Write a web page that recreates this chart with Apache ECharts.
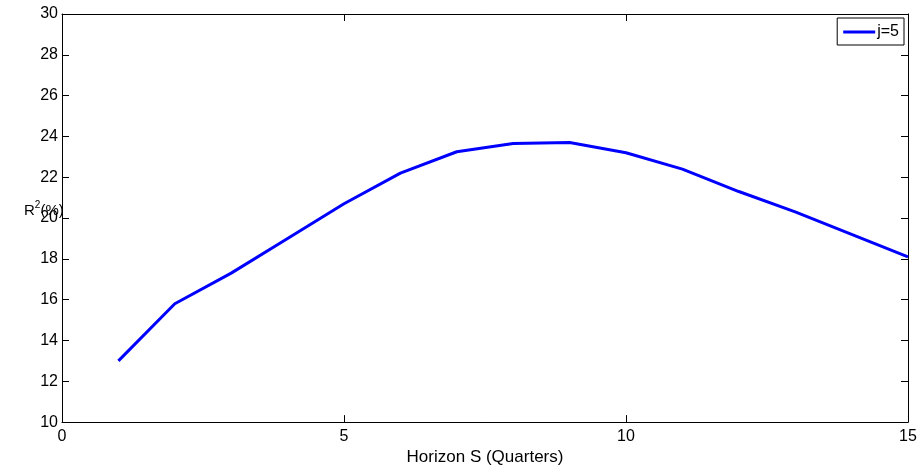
<!DOCTYPE html>
<html>
<head>
<meta charset="utf-8">
<script src="https://cdn.jsdelivr.net/npm/echarts@6/dist/echarts.min.js"></script>
<style>
  html, body { margin: 0; padding: 0; background: #fff; }
  #chart { width: 922px; height: 471px; }
</style>
</head>
<body>
<div id="chart"></div>
<script>
// Forecast horizon in quarters
const horizon = [1, 2, 3, 4, 5, 6, 7, 8, 9, 10, 11, 12, 13, 14, 15];
// R-squared (%) for j=5
const r2 = [13.0, 15.8, 17.3, 19.0, 20.7, 22.2, 23.25, 23.65, 23.7, 23.2, 22.4, 21.3, 20.3, 19.2, 18.1];
const seriesName = 'j=5';

const font = 'Liberation Sans, Arial, sans-serif';
const chart = echarts.init(document.getElementById('chart'));

const boxLine = { show: true, onZero: false, lineStyle: { color: '#000', width: 1 } };
const inTick = { show: true, inside: true, length: 7, lineStyle: { color: '#000', width: 1 } };

chart.setOption({
  animation: false,
  backgroundColor: '#fff',
  grid: { left: 62, right: 14, top: 14, bottom: 47, show: false },
  legend: {
    show: true,
    data: [seriesName],
    right: 18,
    top: 18,
    orient: 'vertical',
    itemWidth: 32,
    itemHeight: 3,
    itemGap: 0,
    padding: [6, 5, 5, 6],
    borderColor: '#000',
    borderWidth: 1,
    borderRadius: 0,
    backgroundColor: '#fff',
    textStyle: { fontFamily: font, fontSize: 16, color: '#000', padding: [0, 0, 0, -3] },
    icon: 'rect'
  },
  xAxis: [
    {
      type: 'value', min: 0, max: 15, interval: 5, position: 'bottom',
      axisLine: boxLine, axisTick: inTick, splitLine: { show: false },
      axisLabel: { fontFamily: font, fontSize: 16, color: '#000', margin: 6 },
      name: 'Horizon S (Quarters)', nameLocation: 'middle', nameGap: 25,
      nameTextStyle: { fontFamily: font, fontSize: 17, color: '#000' }
    },
    {
      type: 'value', min: 0, max: 15, interval: 5, position: 'top',
      axisLine: boxLine, axisTick: inTick, splitLine: { show: false },
      axisLabel: { show: false }
    }
  ],
  yAxis: [
    {
      type: 'value', min: 10, max: 30, interval: 2, position: 'left',
      axisLine: boxLine, axisTick: inTick, splitLine: { show: false },
      axisLabel: { fontFamily: font, fontSize: 16, color: '#000', margin: 4 }
    },
    {
      type: 'value', min: 10, max: 30, interval: 2, position: 'right',
      axisLine: boxLine, axisTick: inTick, splitLine: { show: false },
      axisLabel: { show: false }
    }
  ],
  graphic: [
    {
      type: 'text',
      left: 24,
      top: 200,
      style: {
        text: '{b|R}{s|2}{b|(%)}',
        rich: {
          b: { fontFamily: font, fontSize: 15, fill: '#000', verticalAlign: 'bottom' },
          s: { fontFamily: font, fontSize: 10, fill: '#000', verticalAlign: 'top', padding: [0, 0, 8, 0] }
        }
      }
    }
  ],
  series: [
    {
      name: seriesName,
      type: 'line',
      data: horizon.map((h, i) => [h, r2[i]]),
      showSymbol: false,
      symbol: 'none',
      lineStyle: { color: '#0000ff', width: 3 },
      itemStyle: { color: '#0000ff' }
    }
  ]
});
</script>
</body>
</html>
